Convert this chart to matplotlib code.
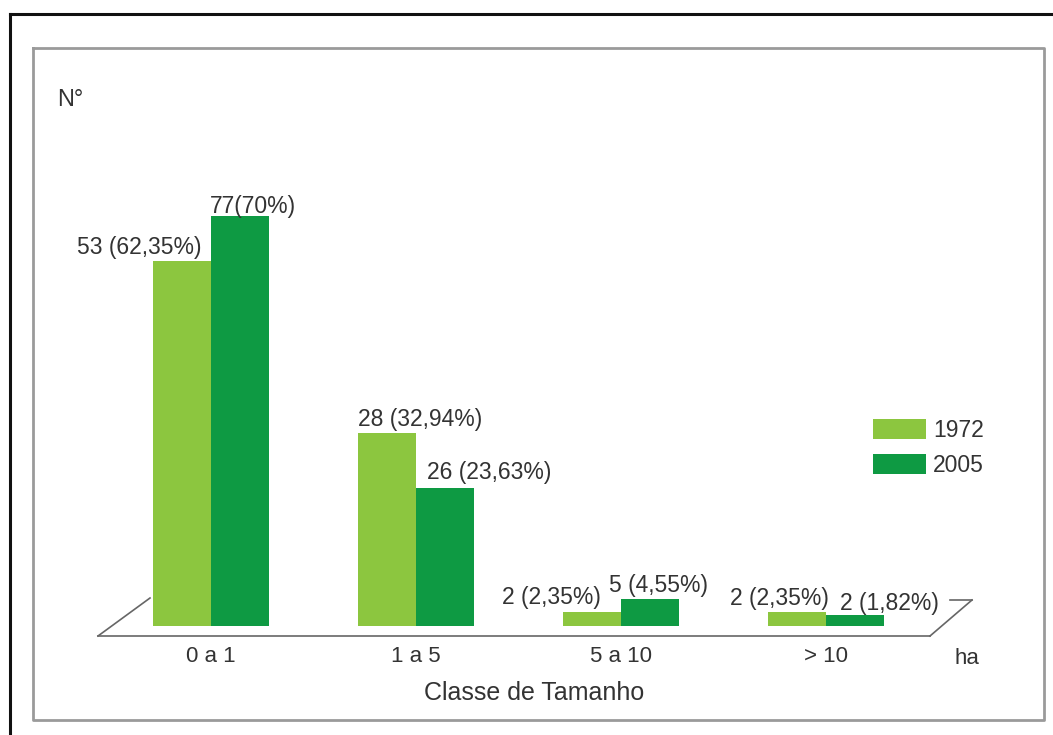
import matplotlib
matplotlib.use("Agg")
import matplotlib.pyplot as plt
from matplotlib.lines import Line2D
import numpy as np

plt.rcParams['font.family'] = ['Liberation Sans', 'DejaVu Sans']

categories = ["0 a 1", "1 a 5", "5 a 10", "> 10"]
series_names = ["1972", "2005"]
counts_1972 = [53, 28, 2, 2]
counts_2005 = [77, 26, 5, 2]
pct_1972 = [62.35, 32.94, 2.35, 2.35]
pct_2005 = [70.0, 23.63, 4.55, 1.82]
labels_1972 = ["53 (62,35%)", "28 (32,94%)", "2 (2,35%)", "2 (2,35%)"]
labels_2005 = ["77(70%)", "26 (23,63%)", "5 (4,55%)", "2 (1,82%)"]
y_label = "N°"
x_label = "Classe de Tamanho"
x_unit = "ha"

col_light = "#8cc63f"
col_dark = "#0e9a43"
txt_col = "#333333"

W, H = 1053, 735
fig = plt.figure(figsize=(W / 100, H / 100), dpi=100)
fig.patch.set_facecolor("white")

def fx(px):
    return px / W

def fy(py):
    return 1 - py / H

# axes: baseline at y=626 px, 5.86 px per %
base_px = 626
ppu = 5.86
ymax = 80
top_px = base_px - ymax * ppu
x0_px, x1_px = 98, 972
ax = fig.add_axes([fx(x0_px), fy(base_px), (x1_px - x0_px) / W, (base_px - top_px) / H])
spacing_px = 205.0
center0_px = 211.0
ax.set_xlim((x0_px - center0_px) / spacing_px, (x1_px - center0_px) / spacing_px)
ax.set_ylim(0, ymax)
ax.axis("off")

x = np.arange(len(categories))
bw = 58 / spacing_px
b1 = ax.bar(x - bw / 2, pct_1972, width=bw, color=col_light, label=series_names[0], zorder=3)
b2 = ax.bar(x + bw / 2, pct_2005, width=bw, color=col_dark, label=series_names[1], zorder=3)

# value labels (offsets in pixels relative to bar left edge / top)
off_1972 = [(-76, 7), (0, 7), (-61, 8), (-38, 7)]
off_2005 = [(-1, 3), (11, 9), (-12, 7), (14, 5)]
for bars, labs, offs in ((b1, labels_1972, off_1972), (b2, labels_2005, off_2005)):
    for rect, lab, (dx, dy) in zip(bars, labs, offs):
        ax.annotate(lab, xy=(rect.get_x(), rect.get_height()),
                    xytext=(dx * 0.72, dy * 0.72), textcoords="offset points",
                    ha="left", va="baseline", fontsize=16.5, color=txt_col,
                    annotation_clip=False)

# category labels
for xi, cat in zip(x, categories):
    ax.text(xi, -(657 - base_px) / ppu, cat, ha="center", va="center",
            fontsize=16, color=txt_col)

# floor (pseudo 3D) lines
floor = dict(color="#666666", lw=1.2, transform=fig.transFigure)
fig.add_artist(Line2D([fx(98), fx(930)], [fy(636), fy(636)], **floor))
fig.add_artist(Line2D([fx(98), fx(150)], [fy(636), fy(598)], **floor))
fig.add_artist(Line2D([fx(930), fx(972)], [fy(636), fy(600)], **floor))
fig.add_artist(Line2D([fx(950), fx(972)], [fy(600), fy(600)], **floor))

# frames
fig.add_artist(Line2D([fx(10), fx(1053)], [fy(14), fy(14)], color="#111111", lw=2.2,
                      transform=fig.transFigure))
fig.add_artist(Line2D([fx(10), fx(10)], [fy(14), fy(735)], color="#111111", lw=2.2,
                      transform=fig.transFigure))
fig.add_artist(Line2D([fx(33), fx(1044), fx(1044), fx(33), fx(33)],
                      [fy(48), fy(48), fy(720), fy(720), fy(48)],
                      color="#9a9a9a", lw=2.0, transform=fig.transFigure))

# texts
fig.text(fx(57), fy(100), y_label, ha="left", va="center", fontsize=17, color=txt_col)
fig.text(fx(967), fy(658), x_unit, ha="center", va="center", fontsize=16, color=txt_col)
fig.text(fx(534), fy(693), x_label, ha="center", va="center", fontsize=18, color=txt_col)

fs = 16.5
fs_px = fs * 100 / 72
leg = fig.legend(handles=[b1, b2], labels=series_names, loc="upper left",
                 bbox_to_anchor=(fx(873), fy(419)), bbox_transform=fig.transFigure,
                 frameon=False, fontsize=fs, handlelength=53 / fs_px,
                 handleheight=22 / fs_px, handletextpad=7 / fs_px,
                 labelspacing=(34 - 22) / fs_px, borderpad=0, borderaxespad=0)
for t in leg.get_texts():
    t.set_color(txt_col)

fig.savefig("out.png", dpi=100)
